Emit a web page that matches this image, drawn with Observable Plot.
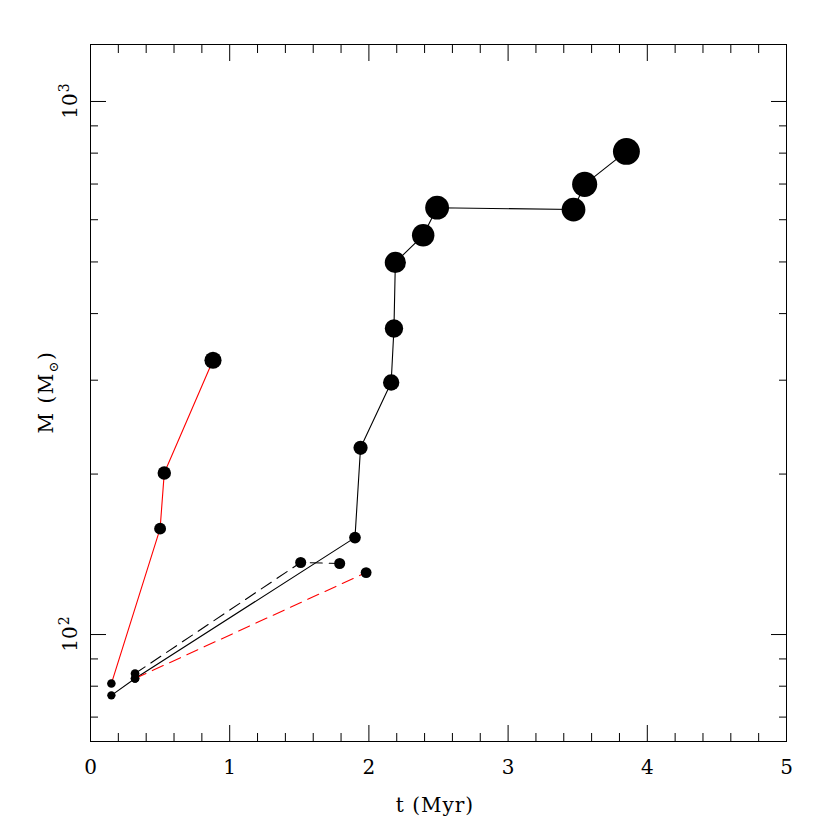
<!DOCTYPE html>
<html><head><meta charset="utf-8">
<script src="https://cdn.jsdelivr.net/npm/d3@7"></script>
<script src="https://cdn.jsdelivr.net/npm/@observablehq/plot@0.6"></script>
<style>body{margin:0;background:#fff}</style>
</head><body><div id="chart"></div>
<script>
// Data (t in Myr, M in solar masses)
const redSolidT = [0.15, 0.50, 0.53, 0.88];
const redSolidM = [80.9, 158, 201, 327];
const blackSolidT = [0.15, 0.32, 1.90, 1.94, 2.16, 2.18, 2.19, 2.39, 2.49, 3.47, 3.55, 3.85];
const blackSolidM = [76.9, 82.7, 152, 224, 297, 375, 499, 561, 632, 627, 699, 806];
const blackDashT = [0.32, 1.51, 1.79];
const blackDashM = [84.5, 136.5, 135.9];
const redDashT = [0.32, 1.98];
const redDashM = [82.7, 130.7];

const xMajor = [0, 1, 2, 3, 4, 5];
const xMinor = [0.2, 0.4, 0.6, 0.8, 1.2, 1.4, 1.6, 1.8, 2.2, 2.4, 2.6, 2.8, 3.2, 3.4, 3.6, 3.8, 4.2, 4.4, 4.6, 4.8];
const yMajor = [100, 1000];
const yMajorBase = "10";
const yMajorExp = ["2", "3"];
const yMinor = [70, 80, 90, 200, 300, 400, 500, 600, 700, 800, 900];
const xTitle = "t (Myr)";

const toRows = (T, M) => T.map((t, i) => ({t, M: M[i]}));
const redSolid = toRows(redSolidT, redSolidM);
const blackSolid = toRows(blackSolidT, blackSolidM);
const blackDash = toRows(blackDashT, blackDashM);
const redDash = toRows(redDashT, redDashM);
const allPts = [...redSolid, ...blackSolid, ...blackDash, ...redDash];

const noText = () => "";
const tickCommon = {stroke: "black", strokeWidth: 1, label: null, tickFormat: noText};
const FONT = "DejaVu Serif";

const svg = Plot.plot({
  width: 830, height: 830,
  marginLeft: 90, marginRight: 44, marginTop: 44, marginBottom: 89,
  x: {domain: [0, 5]},
  y: {type: "log", domain: [63, 1279]},
  r: {type: "sqrt", domain: [0, 1000], range: [0, 15]},
  style: {fontFamily: FONT, fontSize: "20px", background: "white", color: "black"},
  marks: [
    Plot.axisX(xMajor, {anchor: "bottom", tickSize: -16, ...tickCommon}),
    Plot.axisX(xMinor, {anchor: "bottom", tickSize: -8, ...tickCommon}),
    Plot.axisX(xMajor, {anchor: "top", tickSize: -16, ...tickCommon}),
    Plot.axisX(xMinor, {anchor: "top", tickSize: -8, ...tickCommon}),
    Plot.axisY(yMajor, {anchor: "left", tickSize: -16, ...tickCommon}),
    Plot.axisY(yMinor, {anchor: "left", tickSize: -8, ...tickCommon}),
    Plot.axisY(yMajor, {anchor: "right", tickSize: -16, ...tickCommon}),
    Plot.axisY(yMinor, {anchor: "right", tickSize: -8, ...tickCommon}),
    Plot.axisX(xMajor, {anchor: "bottom", tickSize: 0, tickPadding: 18, label: null,
      fontSize: 20, fontFamily: FONT, fill: "black", tickFormat: d => String(d)}),
    Plot.frame({stroke: "black", strokeWidth: 1}),
    Plot.line(redSolid, {x: "t", y: "M", stroke: "#ff0000", strokeWidth: 1.1}),
    Plot.line(blackSolid, {x: "t", y: "M", stroke: "black", strokeWidth: 1.1}),
    Plot.line(blackDash, {x: "t", y: "M", stroke: "black", strokeWidth: 1.1, strokeDasharray: "12,7"}),
    Plot.line(redDash, {x: "t", y: "M", stroke: "#ff0000", strokeWidth: 1.1, strokeDasharray: "12,7"}),
    Plot.dot(allPts, {x: "t", y: "M", r: "M", fill: "black", stroke: "none"})
  ]
});

const s = d3.select(svg);
const yScale = svg.scale("y");
// rotated y tick labels 10^2, 10^3 positioned with the plot's own y scale
yMajor.forEach((v, i) => {
  const t = s.append("text")
    .attr("transform", `translate(77,${yScale.apply(v)}) rotate(-90)`)
    .attr("text-anchor", "middle")
    .attr("font-family", FONT).attr("font-size", 20)
    .attr("fill", "black");
  t.append("tspan").text(yMajorBase);
  t.append("tspan").attr("font-size", 14).attr("dy", -8).attr("dx", 1).text(yMajorExp[i]);
});
s.append("text")
  .attr("x", 435).attr("y", 812)
  .attr("text-anchor", "middle")
  .attr("font-family", FONT).attr("font-size", 20)
  .attr("letter-spacing", "1px")
  .attr("fill", "black")
  .text(xTitle);
const yt = s.append("text")
  .attr("transform", "translate(53,392) rotate(-90)")
  .attr("text-anchor", "middle")
  .attr("font-family", FONT).attr("font-size", 20)
  .attr("letter-spacing", "1.5px")
  .attr("fill", "black");
yt.append("tspan").text("M (M");
yt.append("tspan").attr("font-size", 13).attr("dy", 5).text("⊙");
yt.append("tspan").attr("dy", -5).text(")");

document.getElementById("chart").appendChild(svg);
</script>
</body></html>
